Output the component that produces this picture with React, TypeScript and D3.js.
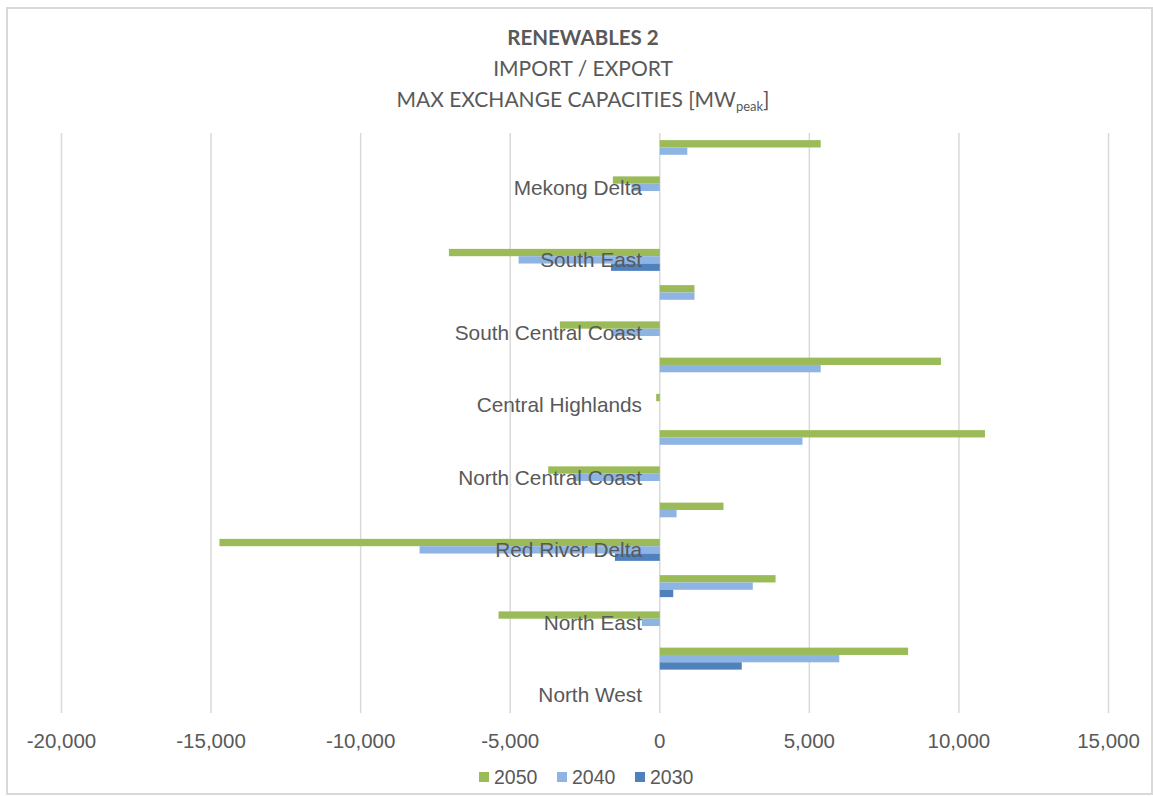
import React from "react";
import * as d3 from "d3";

// Categories in Excel order (first = bottom of the chart)
const categories: string[] = [
  "North West", "", "North East", "", "Red River Delta", "", "North Central Coast", "",
  "Central Highlands", "", "South Central Coast", "", "South East", "", "Mekong Delta", "",
];
const v2050: number[] = [0, 8300, -5390, 3870, -14720, 2130, -3730, 10870, -120, 9400, -3340, 1160, -7050, 0, -1570, 5380];
const v2040: number[] = [0, 6000, -600, 3110, -8030, 560, -2900, 4770, 0, 5380, -1610, 1160, -4720, 0, -950, 920];
const v2030: number[] = [0, 2740, 0, 450, -1500, 0, 0, 0, 0, 0, 0, 0, -1630, 0, 0, 0];
const seriesNames: string[] = ["2050", "2040", "2030"];
const seriesColors: string[] = ["#9BBB59", "#8EB4E3", "#4F81BD"];
const xTicks: number[] = [-20000, -15000, -10000, -5000, 0, 5000, 10000, 15000];

export default function App() {
  const W = 1153, H = 796;
  const left = 61.5, right = 1108.5, top = 133, bottom = 713;
  const x = d3.scaleLinear().domain([-20000, 15000]).range([left, right]);
  const idx = categories.map((_, i) => String(i));
  const y = d3.scaleBand<string>().domain(idx.slice().reverse()).range([top, bottom]).paddingInner(0.393).paddingOuter(0.1965);
  const inner = d3.scaleBand<string>().domain(seriesNames).range([0, y.bandwidth()]);
  const series = [v2050, v2040, v2030];
  const fmt = (v: number) => d3.format(",")(v).replace("\u2212", "-");
  const textColor = "#595959";
  const font = "'Liberation Sans', Arial, sans-serif";
  const titleFont = "Lato, 'Open Sans', sans-serif";

  const legendX = [479, 557, 635];

  return (
    <svg width={W} height={H} style={{ position: "absolute", left: 0, top: 0, background: "#fff" }}>
      <rect x={7} y={8} width={1145} height={786} fill="#fff" stroke="#d9d9d9" strokeWidth={2} />
      <text x={583} y={45} textAnchor="middle" fontFamily={titleFont} fontWeight="bold" fontSize={20.5} fill={textColor}>RENEWABLES 2</text>
      <text x={583} y={76} textAnchor="middle" fontFamily={titleFont} fontSize={21} fill={textColor}>IMPORT / EXPORT</text>
      <text x={583} y={107} textAnchor="middle" fontFamily={titleFont} fontSize={21} fill={textColor}>
        MAX EXCHANGE CAPACITIES [MW<tspan fontSize={13} dy={4}>peak</tspan><tspan dy={-4}>]</tspan>
      </text>
      {xTicks.map((t) => (
        <line key={"g" + t} x1={x(t)} x2={x(t)} y1={top} y2={bottom} stroke="#d9d9d9" strokeWidth={1.5} />
      ))}
      {categories.map((c, i) =>
        series.map((vals, s) => {
          const v = vals[i];
          if (!v) return null;
          const y0 = (y(String(i)) as number) + (inner(seriesNames[s]) as number);
          const x0 = Math.min(x(0), x(v));
          return (
            <rect key={`b${i}-${s}`} x={x0} y={y0} width={Math.abs(x(v) - x(0))} height={inner.bandwidth()} fill={seriesColors[s]} />
          );
        })
      )}
      {categories.map((c, i) =>
        c ? (
          <text key={"c" + i} x={642} y={(y(String(i)) as number) + y.bandwidth() / 2} dy="0.35em" textAnchor="end" fontFamily={font} fontSize={20.8} fill={textColor}>
            {c}
          </text>
        ) : null
      )}
      {xTicks.map((t) => (
        <text key={"t" + t} x={x(t)} y={741} dy="0.35em" textAnchor="middle" fontFamily={font} fontSize={20.5} fill={textColor}>
          {fmt(t)}
        </text>
      ))}
      {seriesNames.map((n, s) => (
        <g key={"l" + n}>
          <rect x={legendX[s]} y={772} width={10} height={10} fill={seriesColors[s]} />
          <text x={legendX[s] + 15} y={777} dy="0.35em" fontFamily={font} fontSize={19.5} fill={textColor}>{n}</text>
        </g>
      ))}
    </svg>
  );
}
